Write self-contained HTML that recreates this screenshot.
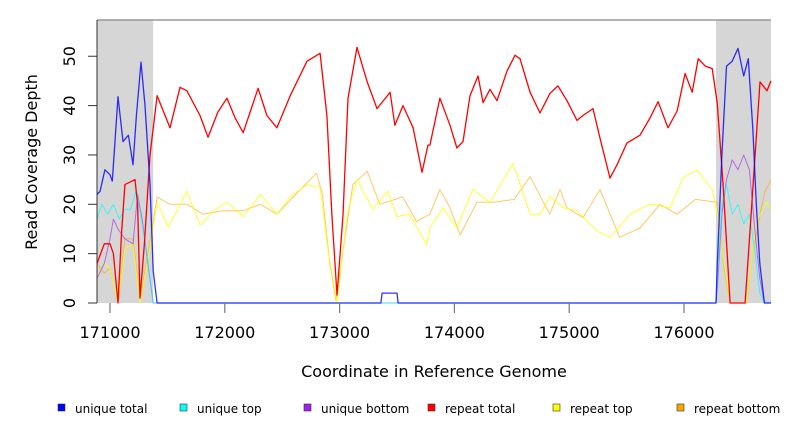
<!DOCTYPE html>
<html><head><meta charset="utf-8"><style>
body{margin:0;background:#fff}
svg{display:block;font-family:"DejaVu Sans","Liberation Sans",sans-serif}
</style></head><body>
<svg id="chart" width="792" height="432" viewBox="0 0 792 432">
<g id="plot"></g>
</svg>
<script>
const xTicks=[171000,172000,173000,174000,175000,176000];
const yTicks=[0,10,20,30,40,50];
const grayRegions=[[170887,171376],[176279,176758]];
const legendNames=["unique total","unique top","unique bottom","repeat total","repeat top","repeat bottom"];
const redX=[170887,170950,171000,171030,171070,171100,171130,171218,171240,171261,171300,171348,171410,171523,171610,171670,171784,171854,171940,172019,172090,172160,172290,172367,172454,172570,172716,172830,172889,172933,172977,173030,173073,173152,173240,173326,173440,173482,173552,173640,173718,173770,173787,173874,173962,174022,174075,174136,174206,174250,174310,174371,174458,174528,174571,174659,174746,174833,174902,174981,175068,175120,175207,175268,175355,175416,175503,175617,175704,175774,175861,175940,176010,176071,176124,176185,176246,176289,176341,176402,176532,176575,176662,176723,176758];
const redY=[8,12,12,10,0,14,24,25,20,1,12,30,42,35.5,43.7,43,38,33.6,38.7,41.5,37.5,34.5,43.5,38,35.5,42,49,50.6,38,17.8,1.6,17.8,41.5,51.8,44.8,39.4,42.7,36,40,35.5,26.5,32,32,41.5,36,31.4,32.7,42,46,40.6,43.3,41,47,50.2,49.5,42.7,38.5,42.5,44,41,37,38,39.4,33.4,25.3,28,32.4,34,37.5,40.8,35.5,38.9,46.5,42.7,49.5,48,47.5,40.6,24,0,0,14.6,44.8,43,45];
const yelX=[170887,170950,171000,171070,171130,171200,171261,171330,171410,171510,171670,171784,171920,172019,172160,172310,172454,172570,172716,172830,172900,172977,173065,173152,173290,173420,173500,173610,173760,173787,173900,174022,174160,174310,174510,174659,174746,174833,174950,175068,175240,175355,175530,175704,175880,175990,176110,176246,176289,176341,176402,176545,176630,176723,176758];
const yelY=[5,8,7,0,11,12,0,9,20.4,15.4,22.7,15.8,19,20.4,17.5,22,18,21.5,24,23.4,10.5,0,18,25,19,22.7,17.5,18,11.7,15.2,19.3,15.2,23,20.4,28.3,18,18,21.5,19.3,18.7,14.6,13.3,18,20,19.3,25.3,27,23,18,9.5,0,0,16.5,20.4,19];
const oraX=[170887,170950,171000,171070,171130,171200,171261,171330,171410,171523,171670,171810,171980,172160,172310,172454,172630,172800,172850,172915,172968,173030,173115,173240,173350,173550,173670,173787,173874,173962,174050,174197,174340,174520,174659,174830,174920,174980,175120,175268,175440,175617,175790,175940,176100,176289,176350,176402,176545,176600,176700,176758];
const oraY=[8,6,7,0,13,13,1,10,21.5,20,20,18,18.7,18.7,20,18,22.3,26.3,22,8,0.5,10.5,24,26.7,20,21.5,16.5,18,23,19.3,13.8,20.4,20.4,21,25.6,18,23,19.3,17.3,23,13.3,15.2,20,18,21,20.4,7,0,0,10.5,22.3,25];
const bluX=[170887,170913,170956,171000,171020,171070,171113,171160,171200,171230,171270,171305,171348,171376,171410,173360,173370,173500,173510,176279,176290,176330,176370,176420,176470,176520,176560,176600,176630,176660,176700,176758];
const bluY=[22,22.6,27,26,24.7,41.8,32.7,34,28,38,48.8,40,24,6.5,0,0,2,2,0,0,8,30,48,49,51.6,46,49.5,35,20,8,0,0];
const cyaX=[170887,170930,170980,171030,171080,171130,171180,171230,171280,171320,171376,176279,176290,176330,176370,176420,176470,176520,176570,176620,176660,176700,176758];
const cyaY=[17,20,18,20,17,19,19,23,16,10,0,0,5,20,24,18,20,16,18,10,2,0,0];
const purX=[170887,170950,171000,171030,171070,171130,171200,171240,171280,171330,171376,176279,176290,176330,176370,176420,176470,176520,176570,176620,176660,176700,176758];
const purY=[5,8,13,17,15,13,12,22,17,8,0,0,3,18,25,29,27,30,27,14,5,0,0];

const NS="http://www.w3.org/2000/svg";
const svgEl=document.getElementById('chart');
const plotEl=document.getElementById('plot');
const L=97,R=771,T=20,B=303;
function sx(c){return 110+(c-171000)*0.1148;}
function sy(v){return B-v*4.935;}
function mk(tag,attrs,parent){const e=document.createElementNS(NS,tag);for(const k in attrs)e.setAttribute(k,attrs[k]);(parent||svgEl).appendChild(e);return e;}

for(const g of grayRegions){
  const r=mk('rect',{x:sx(g[0]),y:T,width:sx(g[1])-sx(g[0]),height:B-T,fill:'#d6d6d6'},plotEl);
  
  
}
const topBorder=mk('line',{x1:L,y1:T,x2:R,y2:T,stroke:'#999','stroke-width':1.5});


const ya=mk('line',{x1:L,y1:T,x2:L,y2:B,stroke:'#333','stroke-width':1});



function series(xs,ys,color,w,op,name){
  const p=mk('polyline',{points:xs.map((c,i)=>sx(c).toFixed(1)+','+sy(ys[i]).toFixed(1)).join(' '),fill:'none',stroke:color,'stroke-width':w,opacity:op,'stroke-linejoin':'round'},plotEl);
  
  
}
series(oraX,oraY,'#ffa500',1,0.6,'repeat-bottom-line');
series(yelX,yelY,'#ffff00',1,0.8,'repeat-top-line');
series(purX,purY,'#a020f0',1,0.6,'unique-bottom-line');
series(cyaX,cyaY,'#00ffff',1,0.7,'unique-top-line');
series(redX,redY,'#ff0000',1.3,1,'repeat-total-line');
series(bluX,bluY,'#0000ff',1.3,0.8,'unique-total-line');

for(const t of yTicks){
  const l=mk('line',{x1:88,y1:sy(t),x2:L,y2:sy(t),stroke:'#333'});
  
  
  const tx=mk('text',{x:0,y:0,transform:`translate(75,${sy(t)}) rotate(-90)`,'text-anchor':'middle','font-size':16,fill:'#000'});
  tx.textContent=t;
  
  
}
for(const t of xTicks){
  const l=mk('line',{x1:sx(t),y1:B,x2:sx(t),y2:313,stroke:'#777','stroke-width':1.2});
  
  
  const tx=mk('text',{x:sx(t),y:338,'text-anchor':'middle','font-size':16,fill:'#000'});
  tx.textContent=t;
  
  
}
const xt=mk('text',{x:434,y:377,'text-anchor':'middle','font-size':16});
xt.textContent='Coordinate in Reference Genome';


const yt=mk('text',{x:0,y:0,transform:'translate(37,162) rotate(-90)','text-anchor':'middle','font-size':16});
yt.textContent='Read Coverage Depth';



const legColors=['#0000ff','#00ffff','#a020f0','#ff0000','#ffff00','#ffa500'];
const legX=[58,180,304,428,553,677];
legendNames.forEach((n,i)=>{
  const r=mk('rect',{x:legX[i],y:404,width:7,height:7,fill:legColors[i],stroke:'#333','stroke-width':0.6});
  
  
  const t=mk('text',{x:legX[i]+17,y:413,'font-size':12});
  t.textContent=n;
  
  
});
</script>
</body></html>
